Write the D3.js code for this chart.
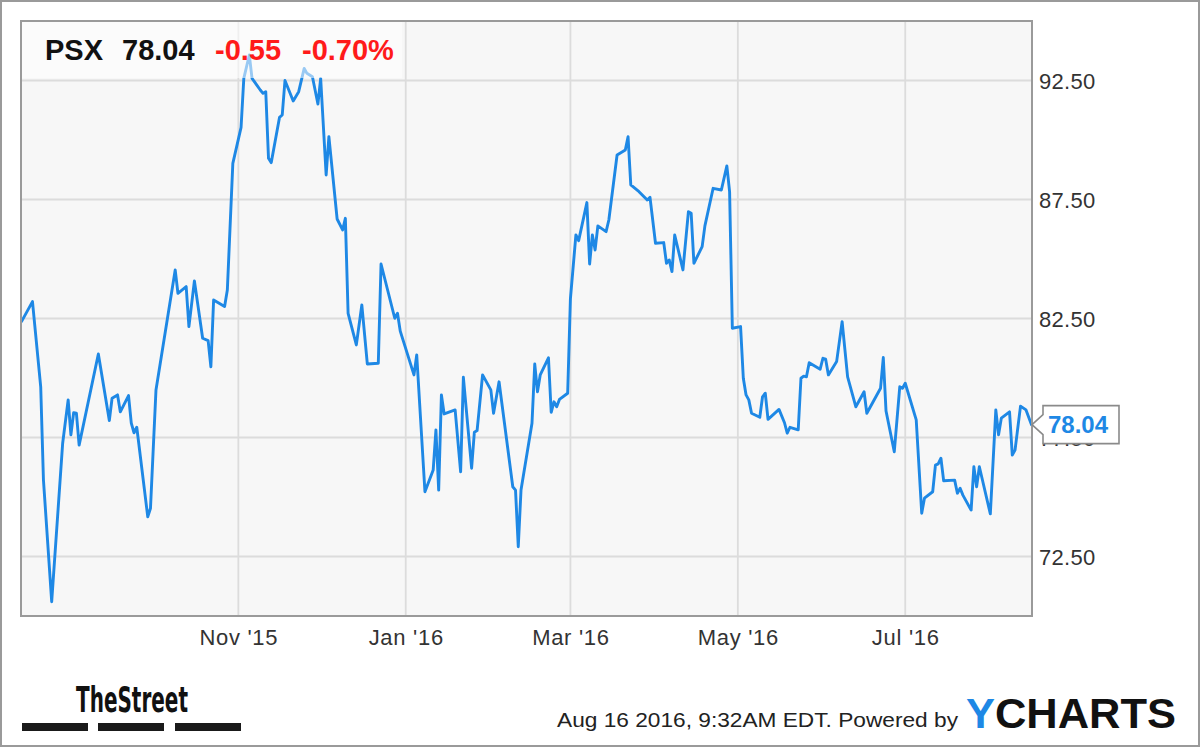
<!DOCTYPE html>
<html><head><meta charset="utf-8">
<script src="https://cdn.jsdelivr.net/npm/d3@7"></script>
<style>
html,body{margin:0;padding:0;background:#fff;}
svg{display:block;font-family:"Liberation Sans",Arial,Helvetica,sans-serif;}
</style></head>
<body><svg id="chart" width="1200" height="747"></svg>
<script>
// ---------- data ----------
const dateStrings = [
"2015-08-14","2015-08-18","2015-08-21","2015-08-22","2015-08-25","2015-08-29","2015-08-31","2015-09-01","2015-09-02","2015-09-03",
"2015-09-04","2015-09-11","2015-09-15","2015-09-16","2015-09-18","2015-09-19","2015-09-22","2015-09-23","2015-09-24","2015-09-25",
"2015-09-29","2015-09-30","2015-10-02","2015-10-09","2015-10-10","2015-10-13","2015-10-14","2015-10-16","2015-10-19","2015-10-21",
"2015-10-22","2015-10-23","2015-10-27","2015-10-28","2015-10-30","2015-11-02","2015-11-03","2015-11-05","2015-11-06","2015-11-09",
"2015-11-10","2015-11-11","2015-11-12","2015-11-13","2015-11-16","2015-11-17","2015-11-18","2015-11-21","2015-11-23","2015-11-25",
"2015-11-26","2015-11-28","2015-11-30","2015-12-01","2015-12-03","2015-12-04","2015-12-07","2015-12-09","2015-12-10","2015-12-11",
"2015-12-14","2015-12-16","2015-12-18","2015-12-22","2015-12-23","2015-12-28","2015-12-29","2015-12-30","2016-01-04","2016-01-05",
"2016-01-08","2016-01-11","2016-01-12","2016-01-13","2016-01-14","2016-01-15","2016-01-19","2016-01-21","2016-01-22","2016-01-25",
"2016-01-26","2016-01-27","2016-01-29","2016-02-01","2016-02-02","2016-02-04","2016-02-09","2016-02-10","2016-02-11","2016-02-12",
"2016-02-16","2016-02-17","2016-02-18","2016-02-19","2016-02-22","2016-02-23","2016-02-24","2016-02-25","2016-02-26","2016-02-29",
"2016-03-01","2016-03-03","2016-03-04","2016-03-07","2016-03-08","2016-03-09","2016-03-10","2016-03-11","2016-03-14","2016-03-15",
"2016-03-18","2016-03-21","2016-03-22","2016-03-23","2016-03-26","2016-03-29","2016-03-30","2016-04-01","2016-04-04","2016-04-05",
"2016-04-06","2016-04-07","2016-04-08","2016-04-11","2016-04-13","2016-04-14","2016-04-15","2016-04-18","2016-04-19","2016-04-22",
"2016-04-25","2016-04-27","2016-04-28","2016-04-29","2016-05-02","2016-05-03","2016-05-04","2016-05-05","2016-05-06","2016-05-09",
"2016-05-10","2016-05-11","2016-05-12","2016-05-16","2016-05-18","2016-05-19","2016-05-20","2016-05-23","2016-05-24","2016-05-25",
"2016-05-26","2016-05-27","2016-05-31","2016-06-01","2016-06-02","2016-06-03","2016-06-06","2016-06-08","2016-06-10","2016-06-13",
"2016-06-16","2016-06-17","2016-06-21","2016-06-22","2016-06-23","2016-06-24","2016-06-27","2016-06-29","2016-06-30","2016-07-01",
"2016-07-05","2016-07-07","2016-07-08","2016-07-11","2016-07-12","2016-07-13","2016-07-14","2016-07-15","2016-07-19","2016-07-20",
"2016-07-21","2016-07-22","2016-07-25","2016-07-26","2016-07-27","2016-07-28","2016-08-01","2016-08-03","2016-08-04","2016-08-05",
"2016-08-08","2016-08-09","2016-08-10","2016-08-12","2016-08-14","2016-08-16"
];
const prices = [
82.37,83.21,79.63,75.71,70.60,77.26,79.08,77.61,78.54,78.52,
77.18,81.01,78.21,79.15,79.29,78.58,79.26,78.10,77.70,77.93,
74.17,74.53,79.50,84.54,83.56,83.84,82.16,84.08,81.67,81.57,
80.47,83.28,83.00,83.70,89.02,90.53,92.59,93.57,92.59,92.10,
91.96,92.03,89.23,89.05,90.95,91.05,92.50,91.64,92.03,93.01,
92.80,92.66,91.51,92.59,88.53,90.14,86.68,86.22,86.71,82.72,
81.39,83.07,80.59,80.62,84.79,82.51,82.72,81.97,80.13,80.97,
75.22,76.13,77.82,75.29,79.29,78.49,78.66,76.06,80.03,76.21,
77.72,77.79,80.13,79.50,78.52,79.84,75.43,75.29,72.91,75.29,
78.10,80.59,79.42,80.13,80.85,78.56,79.00,78.79,79.10,79.36,
83.32,86.01,85.77,87.37,84.79,86.01,85.38,86.39,86.15,86.64,
89.37,89.58,90.14,88.11,87.83,87.48,87.59,85.66,85.69,84.82,
84.96,84.47,86.01,84.54,86.99,86.92,84.82,85.52,86.39,87.97,
87.90,88.91,87.83,82.09,82.16,79.99,79.29,79.08,78.52,78.35,
79.21,79.36,78.26,78.68,78.12,77.68,77.93,77.82,79.99,80.08,
80.05,80.64,80.37,80.83,80.79,80.13,80.69,82.37,80.05,78.79,
79.42,78.52,79.36,79.57,80.86,78.61,76.90,79.63,79.57,79.78,
78.24,74.32,74.95,75.22,76.34,76.39,76.63,75.68,75.71,75.16,
75.37,75.08,74.45,76.27,75.43,76.27,74.29,78.66,77.61,78.31,
78.58,76.76,76.97,78.82,78.66,78.04
];
const yTickValues = [72.5, 77.5, 82.5, 87.5, 92.5];
const xTickDates = ["2015-11-01","2016-01-01","2016-03-01","2016-05-01","2016-07-01"];
const xDomain = ["2015-08-14","2016-08-16"];
const yDomain = [70, 95];
const ticker = "PSX";
const lastPrice = 78.04;
const priceChange = -0.55;
const pctChange = -0.70;
const timestampText = "Aug 16 2016, 9:32AM EDT.  Powered by";

// ---------- chart ----------
const parse = d3.timeParse("%Y-%m-%d");
const data = dateStrings.map((d, i) => ({date: parse(d), value: prices[i]}));

const W = 1200, H = 747;
const plot = {left: 21, right: 1032, top: 21, bottom: 616};
const blue = "#1e88e5";

const svg = d3.select("#chart");

// outer frame
svg.append("rect").attr("x", 1).attr("y", 1).attr("width", W - 2).attr("height", H - 2)
  .attr("fill", "#fff").attr("stroke", "#9a9a9a").attr("stroke-width", 2);

const x = d3.scaleTime().domain(xDomain.map(parse)).range([plot.left + 0.5, plot.right - 0.5]);
const y = d3.scaleLinear().domain(yDomain).range([plot.bottom, plot.top]);

// plot background
svg.append("rect").attr("x", plot.left).attr("y", plot.top)
  .attr("width", plot.right - plot.left).attr("height", plot.bottom - plot.top)
  .attr("fill", "#f7f7f7");

// gridlines
const grid = svg.append("g");
grid.selectAll("line.h").data(yTickValues).join("line").attr("class", "h")
  .attr("x1", plot.left).attr("x2", plot.right)
  .attr("y1", d => y(d)).attr("y2", d => y(d))
  .attr("stroke", "#dcdcdc").attr("stroke-width", 1.8);
grid.selectAll("line.v").data(xTickDates.map(parse)).join("line").attr("class", "v")
  .attr("y1", plot.top).attr("y2", plot.bottom)
  .attr("x1", d => x(d)).attr("x2", d => x(d))
  .attr("stroke", "#dcdcdc").attr("stroke-width", 1.8);

// price line
const line = d3.line().x(d => x(d.date)).y(d => y(d.value));
svg.append("path").datum(data).attr("d", line)
  .attr("fill", "none").attr("stroke", blue).attr("stroke-width", 2.9)
  .attr("stroke-linejoin", "round").attr("stroke-linecap", "round");

// header backdrop (semi transparent)
svg.append("rect").attr("x", plot.left + 1).attr("y", plot.top + 1)
  .attr("width", 380).attr("height", 56)
  .attr("fill", "#ffffff").attr("opacity", 0.55);

// plot border
svg.append("rect").attr("x", plot.left).attr("y", plot.top)
  .attr("width", plot.right - plot.left).attr("height", plot.bottom - plot.top)
  .attr("fill", "none").attr("stroke", "#9a9a9a").attr("stroke-width", 2);

// axes
const xAxis = d3.axisBottom(x).tickValues(xTickDates.map(parse))
  .tickFormat(d3.timeFormat("%b '%y")).tickSize(0).tickPadding(0);
const gx = svg.append("g").attr("transform", `translate(0,${plot.bottom})`).call(xAxis);
gx.select(".domain").remove();
gx.selectAll("text").attr("dy", null).attr("y", 29)
  .attr("font-size", 22).attr("fill", "#333")
  .attr("font-family", "'Liberation Sans', Arial, sans-serif")
  .attr("letter-spacing", 0.7);

const yAxis = d3.axisRight(y).tickValues(yTickValues).tickFormat(d3.format(".2f"))
  .tickSize(0).tickPadding(0);
const gy = svg.append("g").attr("transform", `translate(${plot.right + 7},0)`).call(yAxis);
gy.select(".domain").remove();
gy.selectAll("text").attr("x", 0).attr("dy", "0.36em")
  .attr("font-size", 22).attr("fill", "#333")
  .attr("font-family", "'Liberation Sans', Arial, sans-serif")
  .attr("letter-spacing", 0.3);

// last price tag
const ty = y(lastPrice);
const tx = plot.right;
svg.append("path")
  .attr("d", `M${tx},${ty} L${tx + 11},${ty - 10} L${tx + 11},${ty - 19} L${tx + 87},${ty - 19} L${tx + 87},${ty + 19} L${tx + 11},${ty + 19} L${tx + 11},${ty + 10} Z`)
  .attr("fill", "#fff").attr("stroke", "#8a8a8a").attr("stroke-width", 1.6);
svg.append("text").attr("x", tx + 16).attr("y", ty).attr("dy", "0.36em")
  .attr("font-size", 24).attr("font-weight", "bold").attr("fill", blue)
  .text(lastPrice.toFixed(2));

// header text
const header = svg.append("g").attr("font-size", 29).attr("font-weight", "bold");
header.append("text").attr("x", 45).attr("y", 60).attr("fill", "#111").text(ticker);
header.append("text").attr("x", 122).attr("y", 60).attr("fill", "#111").text(lastPrice.toFixed(2));
header.append("text").attr("x", 215).attr("y", 60).attr("fill", "#ff1a1a").text(priceChange.toFixed(2));
header.append("text").attr("x", 302).attr("y", 60).attr("fill", "#ff1a1a").text(pctChange.toFixed(2) + "%");

// footer: TheStreet logo
svg.append("text").attr("x", 76).attr("y", 712)
  .attr("font-family", "'Liberation Sans Narrow', 'DejaVu Sans Condensed', sans-serif")
  .attr("font-weight", "bold").attr("font-size", 36).attr("fill", "#111")
  .attr("textLength", 112).attr("lengthAdjust", "spacingAndGlyphs")
  .text("TheStreet");
const barStarts = [22, 98, 175];
svg.selectAll("rect.bar").data(barStarts).join("rect").attr("class", "bar")
  .attr("x", d => d).attr("y", 723).attr("width", 66).attr("height", 8).attr("fill", "#1a1a1a");

// footer: timestamp and YCHARTS
svg.append("text").attr("x", 557).attr("y", 727)
  .attr("font-size", 21).attr("fill", "#222")
  .attr("textLength", 401).attr("lengthAdjust", "spacingAndGlyphs")
  .text(timestampText);
const yc = svg.append("text").attr("x", 966).attr("y", 728)
  .attr("font-size", 43).attr("font-weight", "bold")
  .attr("textLength", 210).attr("lengthAdjust", "spacingAndGlyphs");
yc.append("tspan").attr("fill", blue).text("Y");
yc.append("tspan").attr("fill", "#111").text("CHARTS");
</script>
</body></html>
